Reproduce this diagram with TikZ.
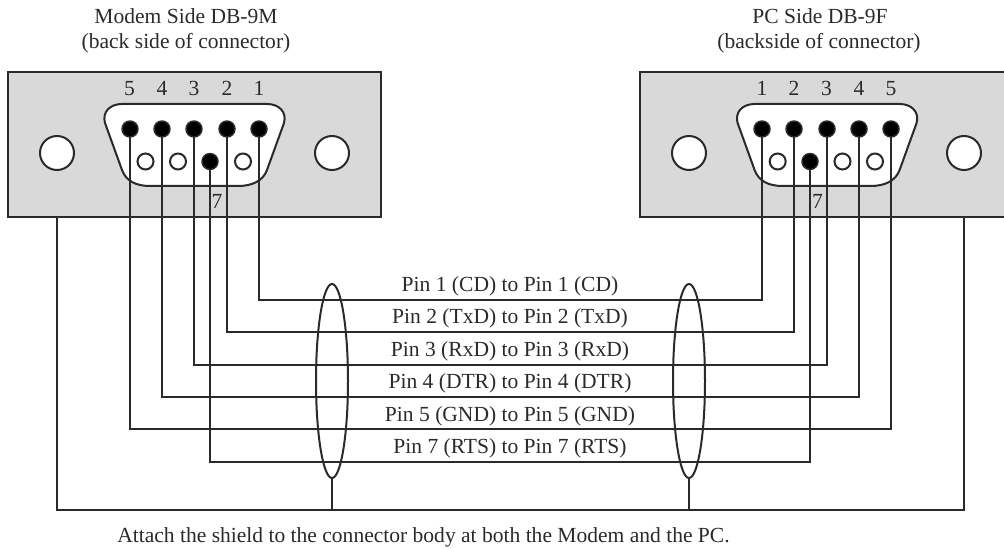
\documentclass[tikz,border=0pt]{standalone}
\usepackage{fontspec}
\setmainfont{Liberation Serif}
\usetikzlibrary{shapes.geometric}
\definecolor{ink}{HTML}{2A2A2A}
\definecolor{body}{HTML}{D9D9D9}
\tikzset{
 x=0.75pt,y=-0.75pt,
 line/.style={draw=ink,line width=1.5pt},
 bodybox/.style={line,fill=body},
 shell/.style={line,fill=white},
 hole/.style={circle,line,fill=white,minimum size=25.5pt,inner sep=0pt,outer sep=0pt},
 oncontact/.style={circle,draw=ink,line width=1.1pt,fill=black,minimum size=12pt,inner sep=0pt,outer sep=0pt},
 offcontact/.style={circle,line,fill=white,minimum size=12pt,inner sep=0pt,outer sep=0pt},
 txt/.style={font=\fontsize{16.15pt}{18pt}\selectfont,text=ink,inner sep=0pt},
 wirelabel/.style={txt,anchor=base},
 band/.style={ellipse,line,minimum width=24pt,minimum height=145.5pt,inner sep=0pt,outer sep=0pt},
}
\begin{document}
\begin{tikzpicture}
\useasboundingbox (0,0) rectangle (1004,549);
\clip (0,0) rectangle (1004,549);
% bodies
\draw[bodybox] (8,72) rectangle (381,217);
\draw[bodybox] (640,72) rectangle (1014,217);
% shells
\foreach \d in {0,632.6}{
\draw[shell,xshift=\d*0.75pt] (122,104) -- (267,104)
 .. controls (279,104) and (287,112) .. (284,123)
 -- (267,170) .. controls (263,181) and (252,186) .. (238,186)
 -- (150,186) .. controls (136,186) and (126,181) .. (122,170)
 -- (105,123) .. controls (102,112) and (110,104) .. (122,104) -- cycle;
}
% mounting holes
\node[hole] (LHa) at (57,153) {};
\node[hole] (LHb) at (332,153) {};
\node[hole] (RHa) at (689,153) {};
\node[hole] (RHb) at (964,153) {};
% cable bands
\node[band] (EL) at (332,381) {};
\node[band] (ER) at (689,381) {};
% routing coordinates
\coordinate (W1) at (509,300);
\coordinate (W2) at (509,332);
\coordinate (W3) at (509,365);
\coordinate (W4) at (509,397);
\coordinate (W5) at (509,429);
\coordinate (W7) at (509,462);
\coordinate (WS) at (509,510);
% contacts
\coordinate (La) at (130,129);\coordinate (Lb) at (162,129);\coordinate (Lc) at (194,129);\coordinate (Ld) at (227,129);\coordinate (Le) at (259,129);\coordinate (Lg) at (210,161.5);
\coordinate (Ra) at (762,129);\coordinate (Rb) at (794,129);\coordinate (Rc) at (827,129);\coordinate (Rd) at (859,129);\coordinate (Re) at (891,129);\coordinate (Rg) at (810,161.5);
% wires
\draw[line] (Le) |- (W1) -| (Ra);
\draw[line] (Ld) |- (W2) -| (Rb);
\draw[line] (Lc) |- (W3) -| (Rc);
\draw[line] (Lb) |- (W4) -| (Rd);
\draw[line] (La) |- (W5) -| (Re);
\draw[line] (Lg) |- (W7) -| (Rg);
\draw[line] (LHa |- 0,217) |- (WS) -| (RHb |- 0,217);
\draw[line] (EL.south) -- (EL.south |- WS);
\draw[line] (ER.south) -- (ER.south |- WS);
% contact dots
\foreach \n/\x in {La5/130,La4/162,La3/194,La2/227,La1/259,Ra1/762,Ra2/794,Ra3/827,Ra4/859,Ra5/891}
 \node[oncontact] (\n) at (\x,129) {};
\foreach \n/\x in {Lo6/145.5,Lo8/178,Lo9/243,Ro6/777.7,Ro8/842.5,Ro9/875}
 \node[offcontact] (\n) at (\x,161.5) {};
\node[oncontact] (La7) at (210,161.5) {};
\node[oncontact] (Ra7) at (810,161.5) {};
% pin numbers
\foreach \t/\x in {5/129.5,4/162,3/194,2/227,1/259,1/762,2/794,3/826.5,4/859,5/891}
 \node[txt,anchor=base] at (\x,96) {\t};
\node[txt,anchor=base] at (217,209) {7};
\node[txt,anchor=base] at (817.5,209) {7};
% titles
\node[txt,anchor=base] (TL1) at (186,24) {Modem Side DB-9M};
\node[txt,anchor=base] (TL2) at (186,49) {(back side of connector)};
\node[txt,anchor=base] (TR1) at (820,24) {PC Side DB-9F};
\node[txt,anchor=base] (TR2) at (819,49) {(backside of connector)};
% wire labels
\node[wirelabel] (P1) at (510,291.5) {Pin 1 (CD) to Pin 1 (CD)};
\node[wirelabel] (P2) at (510,323.5) {Pin 2 (TxD) to Pin 2 (TxD)};
\node[wirelabel] (P3) at (510,356) {Pin 3 (RxD) to Pin 3 (RxD)};
\node[wirelabel] (P4) at (510,388.5) {Pin 4 (DTR) to Pin 4 (DTR)};
\node[wirelabel] (P5) at (510,421) {Pin 5 (GND) to Pin 5 (GND)};
\node[wirelabel] (P7) at (510,453.5) {Pin 7 (RTS) to Pin 7 (RTS)};
\node[txt,anchor=base west] (NOTE) at (117,542) {Attach the shield to the connector body at both the Modem and the PC.};
\end{tikzpicture}
\end{document}
